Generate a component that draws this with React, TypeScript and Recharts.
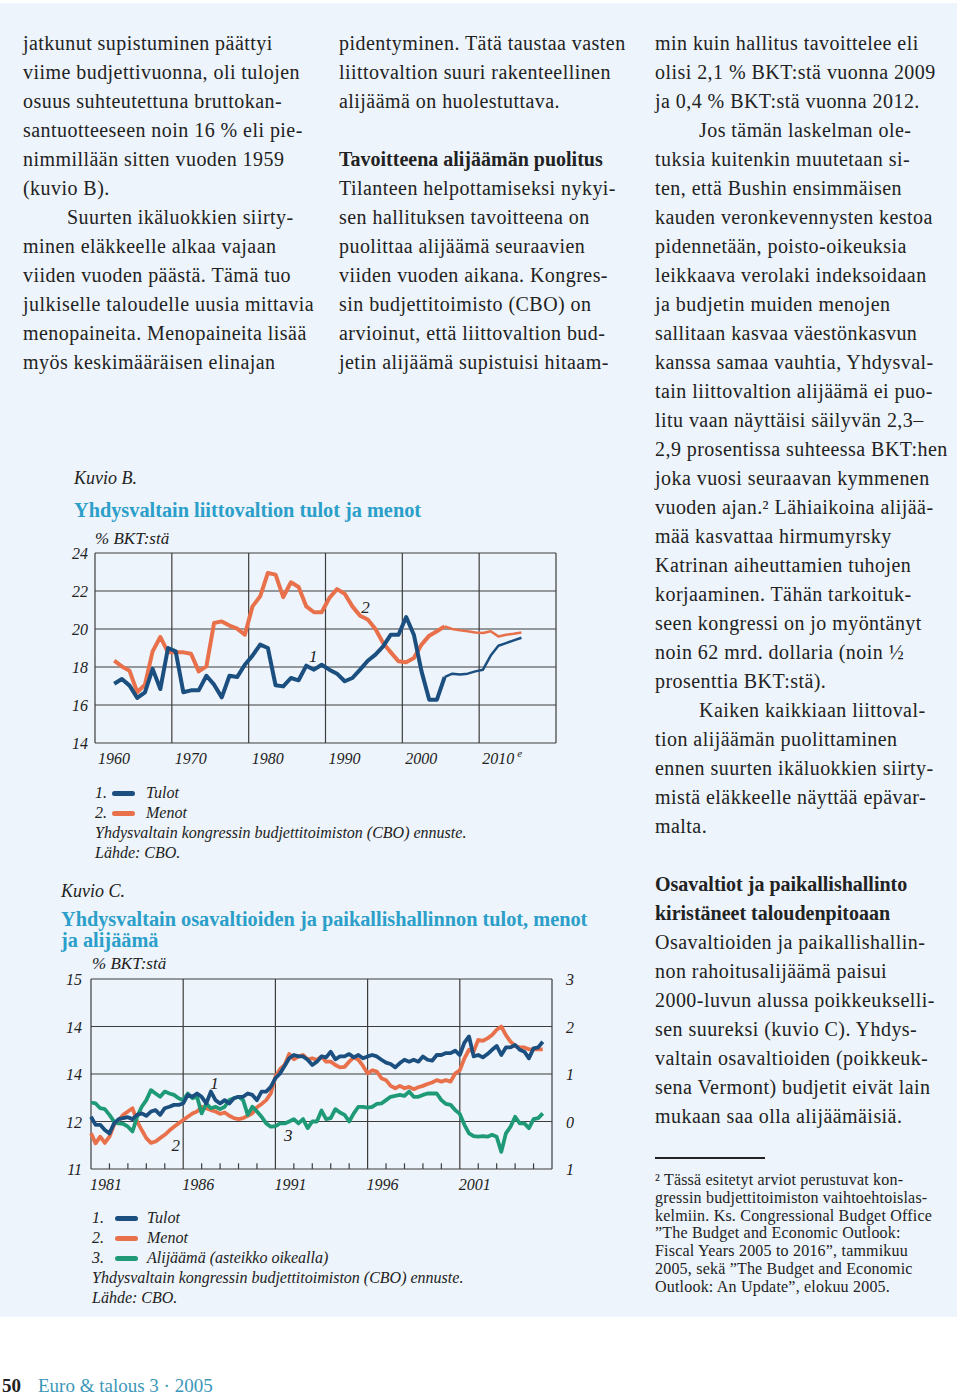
import React from 'react';
import { LineChart, Line, XAxis, YAxis, CartesianGrid, ReferenceDot, ReferenceLine } from 'recharts';

const SERIF = '"Liberation Serif", "DejaVu Serif", serif';
const BLUE = '#1b4f80';
const ORANGE = '#e8714b';
const GREEN = '#1f9a77';
const TEAL = '#2b9fc9';
const GRID = '#3d3d3d';
const PANEL = '#edf4fb';
const INK = '#222';

// Kuvio B: liittovaltion tulot ja menot, % BKT:stä (vuodet 1962–2015, e = ennuste)
const bYears = [
  1962, 1963, 1964, 1965, 1966, 1967, 1968, 1969, 1970, 1971, 1972, 1973, 1974, 1975, 1976, 1977, 1978, 1979,
  1980, 1981, 1982, 1983, 1984, 1985, 1986, 1987, 1988, 1989, 1990, 1991, 1992, 1993, 1994, 1995, 1996, 1997,
  1998, 1999, 2000, 2001, 2002, 2003, 2004, 2005, 2006, 2007, 2008, 2009, 2010, 2011, 2012, 2013, 2014, 2015,
];
const bTulot = [
  17.12, 17.37, 17.02, 16.37, 16.67, 17.9, 16.84, 19.0, 18.82, 16.67, 16.77, 16.77, 17.54, 17.07, 16.4, 17.54, 17.47, 18.12,
  18.6, 19.18, 19.0, 17.04, 16.98, 17.42, 17.3, 18.07, 17.86, 18.12, 17.86, 17.65, 17.25, 17.42, 17.86, 18.33, 18.65, 19.09,
  19.7, 19.7, 20.63, 19.7, 17.77, 16.28, 16.28, 17.47, 17.65, 17.6, 17.65, 17.77, 17.86, 18.6, 19.12, 19.26, 19.4, 19.54,
];
const bMenot = [
  18.33, 18.03, 17.8, 16.67, 17.07, 18.82, 19.58, 18.77, 18.77, 18.77, 18.7, 17.77, 18.03, 20.32, 20.4, 20.18, 20.02, 19.7,
  21.19, 21.72, 22.95, 22.86, 21.68, 22.46, 22.21, 21.19, 20.88, 20.88, 21.63, 22.1, 21.86, 21.19, 20.7, 20.5, 20.0, 19.26,
  18.77, 18.3, 18.25, 18.47, 19.18, 19.65, 19.88, 20.14, 20.0, 19.93, 19.88, 19.82, 19.79, 19.88, 19.61, 19.7, 19.75, 19.82,
];
const bLastActual = 2005;
const bXTicks = [1960, 1970, 1980, 1990, 2000, 2010, 2020];
const bXLabels = ['1960', '1970', '1980', '1990', '2000', '2010', ''];
const bYTicks = [14, 16, 18, 20, 22, 24];

// Kuvio C: osavaltiot ja paikallishallinto, neljännesvuosittain 1981Q1–2005Q3
const cStart = 1981;
const cTulot = [
  12.1, 11.93, 11.93, 11.82, 11.75, 11.96, 12.05, 12.07, 12.09, 12.05, 12.14, 12.17,
  12.12, 12.21, 12.24, 12.14, 12.28, 12.31, 12.35, 12.35, 12.38, 12.56, 12.52, 12.59,
  12.52, 12.38, 12.63, 12.45, 12.38, 12.45, 12.38, 12.49, 12.52, 12.52, 12.59, 12.56,
  12.45, 12.63, 12.63, 12.73, 12.91, 13.01, 13.17, 13.33, 13.4, 13.37, 13.37, 13.3,
  13.19, 13.26, 13.37, 13.35, 13.47, 13.31, 13.37, 13.37, 13.42, 13.35, 13.4, 13.33,
  13.37, 13.4, 13.37, 13.3, 13.24, 13.21, 13.14, 13.23, 13.3, 13.26, 13.3, 13.26,
  13.37, 13.3, 13.28, 13.4, 13.4, 13.44, 13.44, 13.49, 13.4, 13.66, 13.79, 13.37,
  13.4, 13.35, 13.42, 13.51, 13.59, 13.4, 13.56, 13.56, 13.61, 13.51, 13.47, 13.33,
  13.54, 13.56, 13.68,
];
const cMenot = [
  11.75, 11.54, 11.68, 11.55, 11.68, 11.93, 12.03, 12.14, 12.21, 12.28, 12.0, 11.82,
  11.65, 11.55, 11.58, 11.65, 11.72, 11.81, 11.89, 11.96, 12.03, 12.1, 12.17, 12.21,
  12.31, 12.28, 12.24, 12.21, 12.16, 12.19, 12.12, 12.07, 12.05, 12.07, 12.12, 12.17,
  12.3, 12.37, 12.45, 12.59, 12.94, 13.1, 13.19, 13.42, 13.31, 13.37, 13.4, 13.31,
  13.33, 13.3, 13.37, 13.26, 13.26, 13.19, 13.14, 13.15, 13.26, 13.35, 13.3, 13.17,
  13.01, 13.08, 13.05, 12.91, 12.87, 12.75, 12.7, 12.75, 12.7, 12.73, 12.68, 12.72,
  12.75, 12.79, 12.82, 12.87, 12.84, 12.87, 12.84, 13.01, 13.08, 13.33, 13.51, 13.47,
  13.72, 13.7, 13.75, 13.82, 13.93, 14.0, 13.82, 13.68, 13.59, 13.56, 13.56, 13.52,
  13.52, 13.52, 13.52,
];
const cAlijaama = [
  0.4, 0.38, 0.28, 0.26, 0.14, 0.0, -0.04, -0.05, -0.11, -0.21, 0.1, 0.31,
  0.45, 0.66, 0.59, 0.52, 0.63, 0.59, 0.56, 0.49, 0.45, 0.59, 0.49, 0.52,
  0.17, 0.38, 0.28, 0.31, 0.26, 0.31, 0.45, 0.49, 0.52, 0.45, 0.14, 0.31,
  0.21, 0.1, -0.04, -0.11, -0.1, -0.04, -0.04, 0.0, 0.05, -0.04, 0.05, -0.14,
  0.0, 0.0, 0.23, 0.05, 0.07, 0.26, 0.19, 0.14, 0.0, 0.17, 0.31, 0.31,
  0.29, 0.31, 0.37, 0.38, 0.45, 0.52, 0.54, 0.56, 0.54, 0.63, 0.52, 0.52,
  0.56, 0.59, 0.59, 0.59, 0.45, 0.37, 0.35, 0.24, 0.16, -0.07, -0.25, -0.31,
  -0.32, -0.31, -0.32, -0.28, -0.32, -0.64, -0.25, -0.11, 0.1, -0.04, -0.04, -0.14,
  0.05, 0.07, 0.17,
];
const cXTicks = [1981, 1986, 1991, 1996, 2001, 2006];
const cXLabels = ['1981', '1986', '1991', '1996', '2001', ''];
const cMinorYears = [
  1982, 1983, 1984, 1985, 1987, 1988, 1989, 1990, 1992, 1993, 1994, 1995,
  1997, 1998, 1999, 2000, 2002, 2003, 2004, 2005,
];
const cLeftTicks = [11, 12, 13, 14, 15];
const cLeftLabels = ['11', '12', '14', '14', '15'];
const cRightTicks = [-1, 0, 1, 2, 3];
const cRightLabels = ['1', '0', '1', '2', '3'];

// leipäteksti, rivi kerrallaan
type Row = { t: string; indent?: boolean; bold?: boolean };
const col1: Row[] = [
  { t: 'jatkunut supistuminen päättyi' },
  { t: 'viime budjettivuonna, oli tulojen' },
  { t: 'osuus suhteutettuna bruttokan-' },
  { t: 'santuotteeseen noin 16 % eli pie-' },
  { t: 'nimmillään sitten vuoden 1959' },
  { t: '(kuvio B).' },
  { t: 'Suurten ikäluokkien siirty-', indent: true },
  { t: 'minen eläkkeelle alkaa vajaan' },
  { t: 'viiden vuoden päästä. Tämä tuo' },
  { t: 'julkiselle taloudelle uusia mittavia' },
  { t: 'menopaineita. Menopaineita lisää' },
  { t: 'myös keskimääräisen elinajan' },
];
const col2: Row[] = [
  { t: 'pidentyminen. Tätä taustaa vasten' },
  { t: 'liittovaltion suuri rakenteellinen' },
  { t: 'alijäämä on huolestuttava.' },
  { t: '' },
  { t: 'Tavoitteena alijäämän puolitus', bold: true },
  { t: 'Tilanteen helpottamiseksi nykyi-' },
  { t: 'sen hallituksen tavoitteena on' },
  { t: 'puolittaa alijäämä seuraavien' },
  { t: 'viiden vuoden aikana. Kongres-' },
  { t: 'sin budjettitoimisto (CBO) on' },
  { t: 'arvioinut, että liittovaltion bud-' },
  { t: 'jetin alijäämä supistuisi hitaam-' },
];
const col3: Row[] = [
  { t: 'min kuin hallitus tavoittelee eli' },
  { t: 'olisi 2,1 % BKT:stä vuonna 2009' },
  { t: 'ja 0,4 % BKT:stä vuonna 2012.' },
  { t: 'Jos tämän laskelman ole-', indent: true },
  { t: 'tuksia kuitenkin muutetaan si-' },
  { t: 'ten, että Bushin ensimmäisen' },
  { t: 'kauden veronkevennysten kestoa' },
  { t: 'pidennetään, poisto-oikeuksia' },
  { t: 'leikkaava verolaki indeksoidaan' },
  { t: 'ja budjetin muiden menojen' },
  { t: 'sallitaan kasvaa väestönkasvun' },
  { t: 'kanssa samaa vauhtia, Yhdysval-' },
  { t: 'tain liittovaltion alijäämä ei puo-' },
  { t: 'litu vaan näyttäisi säilyvän 2,3–' },
  { t: '2,9 prosentissa suhteessa BKT:hen' },
  { t: 'joka vuosi seuraavan kymmenen' },
  { t: 'vuoden ajan.² Lähiaikoina alijää-' },
  { t: 'mää kasvattaa hirmumyrsky' },
  { t: 'Katrinan aiheuttamien tuhojen' },
  { t: 'korjaaminen. Tähän tarkoituk-' },
  { t: 'seen kongressi on jo myöntänyt' },
  { t: 'noin 62 mrd. dollaria (noin ½' },
  { t: 'prosenttia BKT:stä).' },
  { t: 'Kaiken kaikkiaan liittoval-', indent: true },
  { t: 'tion alijäämän puolittaminen' },
  { t: 'ennen suurten ikäluokkien siirty-' },
  { t: 'mistä eläkkeelle näyttää epävar-' },
  { t: 'malta.' },
  { t: '' },
  { t: 'Osavaltiot ja paikallishallinto', bold: true },
  { t: 'kiristäneet taloudenpitoaan', bold: true },
  { t: 'Osavaltioiden ja paikallishallin-' },
  { t: 'non rahoitusalijäämä paisui' },
  { t: '2000-luvun alussa poikkeukselli-' },
  { t: 'sen suureksi (kuvio C). Yhdys-' },
  { t: 'valtain osavaltioiden (poikkeuk-' },
  { t: 'sena Vermont) budjetit eivät lain' },
  { t: 'mukaan saa olla alijäämäisiä.' },
];
const footnote = [
  '²  Tässä esitetyt arviot perustuvat kon-',
  'gressin budjettitoimiston vaihtoehtoislas-',
  'kelmiin. Ks. Congressional Budget Office',
  '”The Budget and Economic Outlook:',
  'Fiscal Years 2005 to 2016”, tammikuu',
  '2005, sekä ”The Budget and Economic',
  'Outlook: An Update”, elokuu 2005.',
];

const TextRows = ({ rows, x, y0, lh, size }: { rows: Row[]; x: number; y0: number; lh: number; size: number }) => (
  <>
    {rows.map((r, i) => (
      <div
        key={i}
        style={{
          position: 'absolute',
          left: x + (r.indent ? 44 : 0),
          top: y0 + i * lh - lh / 2,
          lineHeight: `${lh}px`,
          fontSize: size,
          fontWeight: r.bold ? 700 : 400,
          letterSpacing: r.bold ? 0 : 0.45,
          whiteSpace: 'nowrap',
          color: INK,
        }}
      >
        {r.t}
      </div>
    ))}
  </>
);

const Caption = ({ x, y, children, size = 16, italic = true, color = INK, weight = 400 }: any) => (
  <div
    style={{
      position: 'absolute', left: x, top: y - 10, lineHeight: '20px', fontSize: size,
      fontStyle: italic ? 'italic' : 'normal', color, fontWeight: weight, whiteSpace: 'nowrap',
    }}
  >
    {children}
  </div>
);

const Swatch = ({ x, y, color }: { x: number; y: number; color: string }) => (
  <div style={{ position: 'absolute', left: x, top: y - 2.5, width: 23, height: 5, borderRadius: 3, background: color }} />
);

const BXTick = (props: any) => {
  const { x, y, payload } = props;
  const label = bXLabels[bXTicks.indexOf(payload.value)];
  if (!label) return null;
  return (
    <text x={x + 3} y={y + 21} fontSize={16} fontStyle="italic" fontFamily={SERIF} fill={INK} textAnchor="start">
      {label}
      {payload.value === 2010 && <tspan dx={3} dy={-7} fontSize={11}>e</tspan>}
    </text>
  );
};

const BYTick = (props: any) => {
  const { x, y, payload } = props;
  return (
    <text x={x} y={y + 6} fontSize={16} fontStyle="italic" fontFamily={SERIF} fill={INK} textAnchor="end">
      {payload.value}
    </text>
  );
};

const CXTick = (props: any) => {
  const { x, y, payload } = props;
  const label = cXLabels[cXTicks.indexOf(payload.value)];
  if (!label) return null;
  return (
    <text x={x - 1} y={y + 21} fontSize={16} fontStyle="italic" fontFamily={SERIF} fill={INK} textAnchor="start">
      {label}
    </text>
  );
};

const CLeftTick = (props: any) => {
  const { x, y, payload } = props;
  return (
    <text x={x} y={y + 6} fontSize={16} fontStyle="italic" fontFamily={SERIF} fill={INK} textAnchor="end">
      {cLeftLabels[cLeftTicks.indexOf(payload.value)]}
    </text>
  );
};

const CRightTick = (props: any) => {
  const { x, y, payload } = props;
  return (
    <text x={x} y={y + 6} fontSize={16} fontStyle="italic" fontFamily={SERIF} fill={INK} textAnchor="start">
      {cRightLabels[cRightTicks.indexOf(payload.value)]}
    </text>
  );
};

const seriesLabel = (value: string) => ({
  value, position: 'center' as const, fill: INK, fontSize: 17, fontStyle: 'italic', fontFamily: SERIF,
});

const ChartB = () => {
  const data = bYears.map((yr, i) => ({
    x: yr + 0.5,
    tulotH: yr <= bLastActual ? bTulot[i] : null,
    tulotE: yr >= bLastActual ? bTulot[i] : null,
    menotH: yr <= bLastActual ? bMenot[i] : null,
    menotE: yr >= bLastActual ? bMenot[i] : null,
  }));
  return (
    <LineChart width={540} height={250} data={data} margin={{ top: 23, right: 34, bottom: 7, left: 5 }}>
      <CartesianGrid stroke={GRID} strokeWidth={1.2} />
      <XAxis dataKey="x" type="number" domain={[1960, 2020]} ticks={bXTicks} interval={0}
        tick={<BXTick />} tickLine={false} axisLine={false} tickSize={0} tickMargin={0} height={30} />
      <YAxis type="number" domain={[14, 24]} ticks={bYTicks} interval={0}
        tick={<BYTick />} tickLine={false} axisLine={false} tickSize={0} tickMargin={7} width={40} />
      <Line type="linear" dataKey="menotH" stroke={ORANGE} strokeWidth={4} dot={false} strokeLinejoin="round" isAnimationActive={false} />
      <Line type="linear" dataKey="menotE" stroke={ORANGE} strokeWidth={2.5} dot={false} strokeLinejoin="round" isAnimationActive={false} />
      <Line type="linear" dataKey="tulotH" stroke={BLUE} strokeWidth={4} dot={false} strokeLinejoin="round" isAnimationActive={false} />
      <Line type="linear" dataKey="tulotE" stroke={BLUE} strokeWidth={2.5} dot={false} strokeLinejoin="round" isAnimationActive={false} />
      <ReferenceDot x={1988.4} y={18.58} r={1} fill="none" stroke="none" label={seriesLabel('1')} />
      <ReferenceDot x={1995.2} y={21.16} r={1} fill="none" stroke="none" label={seriesLabel('2')} />
    </LineChart>
  );
};

const ChartC = () => {
  const data = cTulot.map((v, i) => ({
    x: cStart + i / 4,
    tulot: v,
    menot: cMenot[i],
    alijaama: cAlijaama[i],
  }));
  return (
    <LineChart width={560} height={250} data={data} margin={{ top: 24, right: 8, bottom: 6, left: 6 }}>
      <CartesianGrid stroke={GRID} strokeWidth={1.2} yAxisId="left" />
      <XAxis dataKey="x" type="number" domain={[1981, 2006]} ticks={cXTicks} interval={0}
        tick={<CXTick />} tickLine={false} axisLine={false} tickSize={0} tickMargin={0} height={30} />
      <YAxis yAxisId="left" type="number" domain={[11, 15]} ticks={cLeftTicks} interval={0}
        tick={<CLeftTick />} tickLine={false} axisLine={false} tickSize={0} tickMargin={9} width={45} />
      <YAxis yAxisId="right" orientation="right" type="number" domain={[-1, 3]} ticks={cRightTicks} interval={0}
        tick={<CRightTick />} tickLine={false} axisLine={false} tickSize={0} tickMargin={14} width={40} />
      {cMinorYears.map((yr) => (
        <ReferenceLine key={yr} yAxisId="left" segment={[{ x: yr, y: 11 }, { x: yr, y: 11.12 }]} stroke={GRID} strokeWidth={1.2} />
      ))}
      <Line yAxisId="left" type="linear" dataKey="menot" stroke={ORANGE} strokeWidth={3.8} dot={false} strokeLinejoin="round" isAnimationActive={false} />
      <Line yAxisId="right" type="linear" dataKey="alijaama" stroke={GREEN} strokeWidth={3.8} dot={false} strokeLinejoin="round" isAnimationActive={false} />
      <Line yAxisId="left" type="linear" dataKey="tulot" stroke={BLUE} strokeWidth={3.8} dot={false} strokeLinejoin="round" isAnimationActive={false} />
      <ReferenceDot yAxisId="left" x={1987.7} y={12.81} r={1} fill="none" stroke="none" label={seriesLabel('1')} />
      <ReferenceDot yAxisId="left" x={1985.6} y={11.5} r={1} fill="none" stroke="none" label={seriesLabel('2')} />
      <ReferenceDot yAxisId="left" x={1991.7} y={11.72} r={1} fill="none" stroke="none" label={seriesLabel('3')} />
    </LineChart>
  );
};

export default function App() {
  return (
    <div style={{ position: 'absolute', left: 0, top: 0, width: 960, height: 1397, background: '#fff', fontFamily: SERIF, overflow: 'hidden' }}>
      <div style={{ position: 'absolute', left: 0, top: 3, width: 957, height: 1314, background: PANEL }} />

      <TextRows rows={col1} x={23} y0={43} lh={29} size={20} />
      <TextRows rows={col2} x={339} y0={43} lh={29} size={20} />
      <TextRows rows={col3} x={655} y0={43} lh={29} size={20} />

      <div style={{ position: 'absolute', left: 655, top: 1157, width: 110, height: 1.5, background: INK }} />
      {footnote.map((t, i) => (
        <div key={i} style={{ position: 'absolute', left: 655, top: 1180 + i * 17.8 - 9, lineHeight: '18px', fontSize: 16, letterSpacing: 0.2, color: INK, whiteSpace: 'nowrap' }}>
          {t}
        </div>
      ))}

      {/* Kuvio B */}
      <Caption x={74} y={478} size={18}>Kuvio B.</Caption>
      <Caption x={74} y={510} size={20.3} italic={false} color={TEAL} weight={700}>Yhdysvaltain liittovaltion tulot ja menot</Caption>
      <Caption x={95} y={539} size={17}>% BKT:stä</Caption>
      <div style={{ position: 'absolute', left: 50, top: 530 }}>
        <ChartB />
      </div>
      <Caption x={95} y={793}>1.</Caption>
      <Swatch x={112} y={793} color={BLUE} />
      <Caption x={146} y={793}>Tulot</Caption>
      <Caption x={95} y={813}>2.</Caption>
      <Swatch x={112} y={813} color={ORANGE} />
      <Caption x={146} y={813}>Menot</Caption>
      <Caption x={95} y={833}>Yhdysvaltain kongressin budjettitoimiston (CBO) ennuste.</Caption>
      <Caption x={95} y={853}>Lähde: CBO.</Caption>

      {/* Kuvio C */}
      <Caption x={61} y={891} size={18}>Kuvio C.</Caption>
      <Caption x={61} y={919} size={20.3} italic={false} color={TEAL} weight={700}>Yhdysvaltain osavaltioiden ja paikallishallinnon tulot, menot</Caption>
      <Caption x={61} y={940} size={20.3} italic={false} color={TEAL} weight={700}>ja alijäämä</Caption>
      <Caption x={92} y={964} size={17}>% BKT:stä</Caption>
      <div style={{ position: 'absolute', left: 40, top: 955 }}>
        <ChartC />
      </div>
      <Caption x={92} y={1218}>1.</Caption>
      <Swatch x={115} y={1218} color={BLUE} />
      <Caption x={147} y={1218}>Tulot</Caption>
      <Caption x={92} y={1238}>2.</Caption>
      <Swatch x={115} y={1238} color={ORANGE} />
      <Caption x={147} y={1238}>Menot</Caption>
      <Caption x={92} y={1258}>3.</Caption>
      <Swatch x={115} y={1258} color={GREEN} />
      <Caption x={147} y={1258}>Alijäämä (asteikko oikealla)</Caption>
      <Caption x={92} y={1278}>Yhdysvaltain kongressin budjettitoimiston (CBO) ennuste.</Caption>
      <Caption x={92} y={1298}>Lähde: CBO.</Caption>

      {/* alatunniste */}
      <Caption x={2} y={1386} size={19} italic={false} weight={700}>50</Caption>
      <Caption x={38} y={1386} size={19} italic={false} color="#3b97b9">Euro &amp; talous 3 · 2005</Caption>
    </div>
  );
}
